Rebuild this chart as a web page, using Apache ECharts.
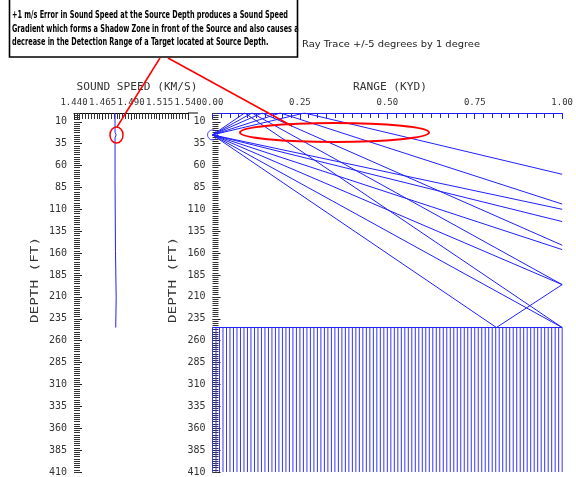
<!DOCTYPE html>
<html>
<head>
<meta charset="utf-8">
<script src="https://cdn.jsdelivr.net/npm/echarts@6/dist/echarts.min.js"></script>
<style>
  html, body { margin: 0; padding: 0; background: #ffffff; }
  #main { width: 576px; height: 477px; }
</style>
</head>
<body>
<div id="main"></div>
<script>
// ---- Axis tick labels ----
const speedTicks = [1.440, 1.465, 1.490, 1.515, 1.540];          // km/s
const rangeTicks = [0.00, 0.25, 0.50, 0.75, 1.00];               // kyd
const depthTicks = [10, 35, 60, 85, 110, 135, 160, 185, 210, 235, 260, 285, 310, 335, 360, 385, 410]; // ft

// ---- Sound speed profile: +1 m/s error at the source depth ----
const profileDepth = [0, 22, 25, 28, 78, 80, 158, 160, 211, 213, 245];
const profileSpeed = [1.4760, 1.4760, 1.4770, 1.4760, 1.4760, 1.4764, 1.4764, 1.4770, 1.4770, 1.4766, 1.4766];

const sourceDepth = 25;   // ft
const bottomDepth = 245;  // ft
const maxDepth = 410;     // ft

// ---- Ray trace, launch angles -5..+5 deg in 1 deg steps ----
// each ray: ranges (kyd) and depths (ft) at its turning points
const rayAngles = [-5, -4, -3, -2, -1, 0, 1, 2, 3, 4, 5];
const rayRanges = [
  [0, 0.092, 1.0],
  [0, 0.113, 1.0],
  [0, 0.142, 1.0],
  [0, 0.194, 1.0],
  [0, 0.263, 1.0],
  [0, 1.0],
  [0, 1.0],
  [0, 1.0],
  [0, 1.0],
  [0, 1.0],
  [0, 0.812, 1.0]
];
const rayDepths = [
  [25, 0, 245],
  [25, 0, 196],
  [25, 0, 151],
  [25, 0, 104],
  [25, 0, 70],
  [25, 110],
  [25, 124],
  [25, 156],
  [25, 196],
  [25, 245],
  [25, 245, 196]
];

// ---- helpers ----
const minorDepthTicks = [];
for (let d = 0; d <= maxDepth; d += 2.5) minorDepthTicks.push(d);
const hatchRanges = [];
for (let i = 0; i <= 100; i++) hatchRanges.push([i / 100]);

const measureCtx = document.createElement('canvas').getContext('2d');
function textWidth(str, font) { measureCtx.font = font; return measureCtx.measureText(str).width; }
function fitScale(str, font, width) { return width / textWidth(str, font); }

const BLUE = '#2020ff';
const TICK_GRAY = '#333333';
const LABEL_FONT = 'DejaVu Sans Mono';

const chart = echarts.init(document.getElementById('main'), null, { renderer: 'canvas' });

function depthAxes(gridIndex) {
  return [
    {
      gridIndex, type: 'value', position: 'left', offset: 0, inverse: true, min: 0, max: maxDepth,
      axisLine: { show: false },
      splitLine: { show: false },
      axisTick: { show: true, inside: true, length: 8, customValues: depthTicks, lineStyle: { color: '#222', width: 1 } },
      axisLabel: { show: true, customValues: depthTicks, margin: 7, color: '#333', fontFamily: LABEL_FONT, fontSize: 10 }
    },
    {
      gridIndex, type: 'value', position: 'left', offset: 0, inverse: true, min: 0, max: maxDepth,
      axisLine: { show: false },
      splitLine: { show: false },
      axisTick: { show: true, inside: true, length: 6, customValues: minorDepthTicks, lineStyle: { color: TICK_GRAY, width: 1 } },
      axisLabel: { show: false }
    }
  ];
}

const series = [];

// sound speed profile
series.push({
  type: 'line', xAxisIndex: 0, yAxisIndex: 0,
  data: profileDepth.map((d, i) => [profileSpeed[i], d]),
  showSymbol: false, animation: false,
  lineStyle: { color: BLUE, width: 1 }
});

// rays
rayAngles.forEach((a, k) => {
  series.push({
    type: 'line', name: 'ray ' + a, xAxisIndex: 1, yAxisIndex: 2,
    data: rayRanges[k].map((r, i) => [r, rayDepths[k][i]]),
    showSymbol: false, animation: false,
    lineStyle: { color: BLUE, width: 1 }
  });
});

// source marker
series.push({
  type: 'scatter', xAxisIndex: 1, yAxisIndex: 2,
  data: [[0, sourceDepth]], symbol: 'circle', symbolSize: 10, animation: false,
  itemStyle: { color: 'rgba(0,0,0,0)', borderColor: BLUE, borderWidth: 1 }
});

// sea floor
series.push({
  type: 'line', xAxisIndex: 1, yAxisIndex: 2,
  data: [[0, bottomDepth], [1, bottomDepth]],
  showSymbol: false, animation: false,
  lineStyle: { color: BLUE, width: 1 }
});
series.push({
  type: 'custom', xAxisIndex: 1, yAxisIndex: 2, animation: false, clip: false,
  data: hatchRanges,
  renderItem: function (params, api) {
    const r = api.value(0);
    const p1 = api.coord([r, bottomDepth]);
    const p2 = api.coord([r, maxDepth]);
    return {
      type: 'line',
      shape: { x1: p1[0], y1: p1[1], x2: p2[0], y2: p2[1] },
      style: { stroke: '#3535ff', lineWidth: 1 }
    };
  }
});

const boxFont = "bold 11px 'Liberation Sans Narrow', 'DejaVu Sans Condensed', sans-serif";
const boxLines = [
  '+1 m/s Error in Sound Speed at the Source Depth produces a Sound Speed',
  'Gradient which forms a Shadow Zone in front of the Source and also causes a',
  'decrease in the Detection Range of a Target located at Source Depth.'
];
const boxScale = fitScale(boxLines[0], boxFont, 276);

const nameFont = "10px 'DejaVu Sans Mono', monospace";
const noteFont = "8px 'DejaVu Sans', sans-serif";
const noteText = 'Ray Trace +/-5 degrees by 1 degree';

function nameText(str, x, y, width, rotation) {
  return {
    type: 'text', x, y, rotation: rotation || 0,
    scaleX: fitScale(str, nameFont, width), scaleY: 1,
    style: { text: str, x: 0, y: 0, font: nameFont, fill: '#333', align: 'center', verticalAlign: 'middle' },
    z: 10
  };
}

const graphics = [
  // annotation box
  { type: 'rect', shape: { x: 9.5, y: -2, width: 288, height: 59 }, style: { fill: '#fff', stroke: '#000', lineWidth: 1.6 }, z: 20 },
  ...boxLines.map((t, i) => ({
    type: 'text', x: 12, y: 15.5 + i * 13.5, scaleX: boxScale, scaleY: 1,
    style: { text: t, x: 0, y: 0, font: boxFont, fill: '#000', align: 'left', verticalAlign: 'middle' }, z: 21
  })),
  {
    type: 'text', x: 302, y: 45, scaleX: fitScale(noteText, noteFont, 178), scaleY: 1,
    style: { text: noteText, x: 0, y: 0, font: noteFont, fill: '#222', align: 'left', verticalAlign: 'middle' }, z: 20
  },
  // axis names
  nameText('SOUND SPEED (KM/S)', 137, 87, 121),
  nameText('RANGE (KYD)', 390, 87, 74),
  nameText('DEPTH (FT)', 35, 280, 86, Math.PI / 2),
  nameText('DEPTH (FT)', 173, 280, 86, Math.PI / 2),
  // sound speed axis line tail
  { type: 'line', shape: { x1: 188, y1: 113, x2: 198, y2: 113 }, style: { stroke: '#000', lineWidth: 1 }, z: 10 },
  // red callouts
  { type: 'line', shape: { x1: 160, y1: 58, x2: 117, y2: 127 }, style: { stroke: '#ff0000', lineWidth: 1.5 }, z: 30 },
  { type: 'line', shape: { x1: 168, y1: 58, x2: 292, y2: 126 }, style: { stroke: '#ff0000', lineWidth: 1.5 }, z: 30 },
  { type: 'ellipse', shape: { cx: 116.5, cy: 135, rx: 6.5, ry: 8 }, style: { fill: 'none', stroke: '#ff0000', lineWidth: 1.5 }, z: 30 },
  { type: 'ellipse', shape: { cx: 334.5, cy: 132.5, rx: 94.5, ry: 9.5 }, style: { fill: 'none', stroke: '#ff0000', lineWidth: 2 }, z: 30 }
];

const option = {
  animation: false,
  backgroundColor: '#ffffff',
  grid: [
    { left: 74, top: 113, width: 114, height: 363.6 },
    { left: 212.5, top: 113, width: 354.5, height: 363.6 }
  ],
  xAxis: [
    {
      gridIndex: 0, type: 'value', position: 'top',
      min: speedTicks[0], max: speedTicks[speedTicks.length - 1], interval: 0.025,
      axisLine: { show: true, lineStyle: { color: '#000', width: 1 } },
      axisTick: { show: true, inside: true, length: 7, lineStyle: { color: '#222' } },
      minorTick: { show: true, splitNumber: 10, length: 6, lineStyle: { color: TICK_GRAY } },
      splitLine: { show: false },
      axisLabel: {
        customValues: speedTicks, margin: 6, color: '#333', fontFamily: LABEL_FONT, fontSize: 9,
        formatter: v => v.toFixed(3)
      }
    },
    {
      gridIndex: 1, type: 'value', position: 'top',
      min: rangeTicks[0], max: rangeTicks[rangeTicks.length - 1], interval: 0.25,
      axisLine: { show: true, lineStyle: { color: BLUE, width: 1 } },
      axisTick: { show: true, inside: true, length: 6, lineStyle: { color: BLUE } },
      minorTick: { show: true, splitNumber: 10, length: 5, lineStyle: { color: BLUE } },
      splitLine: { show: false },
      axisLabel: {
        customValues: rangeTicks, margin: 6, color: '#333', fontFamily: LABEL_FONT, fontSize: 9,
        formatter: v => v.toFixed(2)
      }
    }
  ],
  yAxis: [...depthAxes(0), ...depthAxes(1)],
  series,
  graphic: graphics
};

chart.setOption(option);
</script>
</body>
</html>
